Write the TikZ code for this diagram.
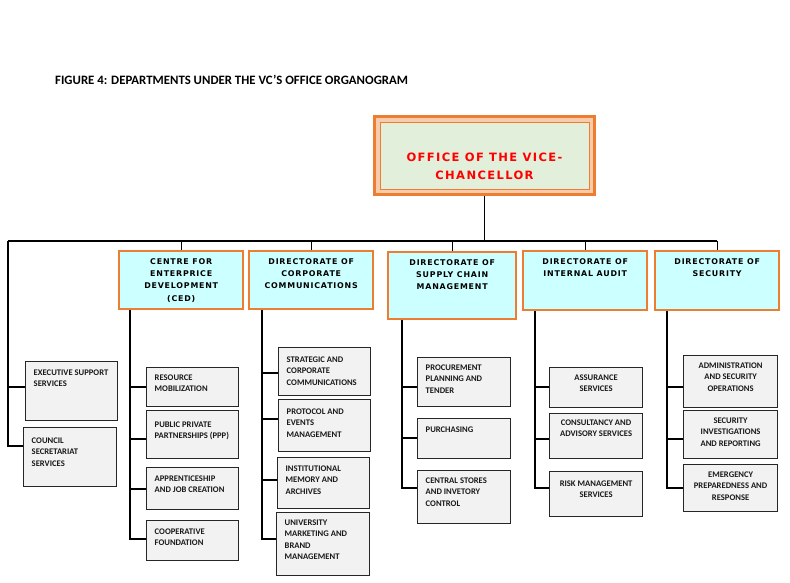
\documentclass[tikz,border=0pt]{standalone}
\usepackage{fontspec}
\setmainfont{Carlito}
\newfontfamily\hdfont[LetterSpace=10]{DejaVu Sans Bold}
\newfontfamily\vcfont[LetterSpace=12]{DejaVu Sans Bold}
\definecolor{orgc}{HTML}{ED7D31}
\definecolor{peach}{HTML}{F8CBAD}
\definecolor{cyanc}{HTML}{CCFFFF}
\definecolor{vcfill}{HTML}{E2EFDA}
\definecolor{cfill}{HTML}{F2F2F2}
\definecolor{vcred}{HTML}{FF0000}
\tikzset{
  conn/.style={draw=black, line width=1.2pt},
  lvtwo/.style={draw=orgc, line width=2.4pt, fill=cyanc, anchor=north west, inner sep=0pt},
  cb/.style={draw=black!85, line width=1.2pt, fill=cfill, anchor=north west, inner sep=0pt},
  ct/.style={font=\bfseries\fontsize{8.6}{11.6}\selectfont, text=black!90, inner sep=0pt},
  lvtwot/.style={font=\hdfont\fontsize{7.9}{12.3}\selectfont, text=black, inner sep=0pt, align=center, anchor=north},
}
\newcommand\mkboxl[7]{%
  \node[cb, minimum width=#4pt, minimum height=#5pt] (#1) at (#2,#3) {};
  \node[ct, align=left, anchor=north west] (#1t) at ([xshift=8.5pt,yshift=-#6pt+2.8pt]#1.north west) {#7};}
\newcommand\mkboxc[7]{%
  \node[cb, minimum width=#4pt, minimum height=#5pt] (#1) at (#2,#3) {};
  \node[ct, align=center, anchor=north] (#1t) at ([yshift=-#6pt+2.8pt]#1.north) {#7};}
\newcommand\mklvtwo[6]{%
  \node[lvtwo, minimum width=#4pt, minimum height=#5pt] (#1) at (#2,#3) {};
  \node[lvtwot] (#1t) at ([yshift=-8.2pt]#1.north) {#6};}
\begin{document}
\begin{tikzpicture}[x=1pt,y=-1pt]
\useasboundingbox (0,0) rectangle (790,583);
% title
\node[font=\bfseries\fontsize{12.8}{14}\selectfont, anchor=west, inner sep=0pt] (title) at (55,80) {FIGURE 4: DEPARTMENTS UNDER THE VC’S OFFICE ORGANOGRAM};
% VC box
\node[draw=orgc, line width=3pt, fill=peach, minimum width=220pt, minimum height=78pt, anchor=north west, inner sep=0pt] (vc) at (373,115) {};
\node[draw=orgc, line width=0.8pt, fill=vcfill, minimum width=209pt, minimum height=67pt, inner sep=0pt] (vcin) at (vc.center) {};
\node[font=\vcfont\fontsize{11.5}{18}\selectfont, text=vcred, align=center, anchor=north, inner sep=0pt] (vct) at ([yshift=-37.5pt]vc.north) {OFFICE OF THE VICE-\\CHANCELLOR};
% level two
\mklvtwo{ced}{118}{250}{124}{58}{CENTRE FOR\\ENTERPRICE\\DEVELOPMENT\\(CED)}
\mklvtwo{corp}{248}{250}{124}{58}{DIRECTORATE OF\\CORPORATE\\COMMUNICATIONS}
\mklvtwo{scm}{387}{251}{128}{67}{DIRECTORATE OF\\SUPPLY CHAIN\\MANAGEMENT}
\mklvtwo{aud}{522}{250}{124}{59}{DIRECTORATE OF\\INTERNAL AUDIT}
\mklvtwo{sec}{654}{250}{124}{59}{DIRECTORATE OF\\SECURITY}
% children
\mkboxl{exec}{25}{361}{92}{59}{11}{EXECUTIVE SUPPORT\\SERVICES}
\mkboxl{council}{23}{427}{93}{59}{13}{COUNCIL\\SECRETARIAT\\SERVICES}
\mkboxl{res}{146}{367}{92}{39}{10}{RESOURCE\\MOBILIZATION}
\mkboxl{ppp}{146}{410}{92}{48}{14}{PUBLIC PRIVATE\\PARTNERSHIPS (PPP)}
\mkboxl{app}{146}{467}{92}{42}{11}{APPRENTICESHIP\\AND JOB CREATION}
\mkboxl{coop}{146}{520}{92}{40}{11}{COOPERATIVE\\FOUNDATION}
\mkboxl{strat}{278}{347}{92}{48}{12}{STRATEGIC AND\\CORPORATE\\COMMUNICATIONS}
\mkboxl{proto}{278}{399}{92}{52}{12}{PROTOCOL AND\\EVENTS\\MANAGEMENT}
\mkboxl{inst}{277}{457}{92}{51}{11}{INSTITUTIONAL\\MEMORY AND\\ARCHIVES}
\mkboxl{univ}{276}{512}{93}{63}{10}{UNIVERSITY\\MARKETING AND\\BRAND\\MANAGEMENT}
\mkboxl{proc}{417}{357}{93}{49}{10}{PROCUREMENT\\PLANNING AND\\TENDER}
\mkboxl{purch}{417}{418}{93}{40}{11}{PURCHASING}
\mkboxl{store}{417}{470}{93}{53}{10}{CENTRAL STORES\\AND INVETORY\\CONTROL}
\mkboxc{assur}{549}{367}{93}{40}{10}{ASSURANCE\\SERVICES}
\mkboxc{consult}{549}{413}{93}{45}{9}{CONSULTANCY AND\\ADVISORY SERVICES}
\mkboxc{risk}{549}{471}{93}{45}{12}{RISK MANAGEMENT\\SERVICES}
\mkboxc{admin}{683}{355}{94}{52}{10}{ADMINISTRATION\\AND SECURITY\\OPERATIONS}
\mkboxc{invest}{683}{410}{94}{48}{10}{SECURITY\\INVESTIGATIONS\\AND REPORTING}
\mkboxc{emerg}{683}{464}{94}{47}{10}{EMERGENCY\\PREPAREDNESS AND\\RESPONSE}
% connectors top
\coordinate (busL) at (8,241);
\coordinate (busR) at (sec.north |- busL);
\draw[conn] (vc.south) -- (vc.south |- busL);
\draw[conn] (busL) -- (busR);
\foreach \n in {ced,corp,scm,aud,sec} \draw[conn] (\n.north |- busL) -- (\n.north);
% left branch
\draw[conn, line width=1.6pt] (busL) |- (exec.west |- 0,387);
\draw[conn, line width=1.6pt] (busL) |- (council.west |- 0,446);
% CED
\coordinate (cedx) at ([xshift=12pt]ced.south west);
\draw[conn] (cedx) |- (res.west |- 0,387);
\draw[conn] (cedx) |- (ppp.west |- 0,439);
\draw[conn] (cedx) |- (app.west |- 0,489);
\draw[conn] (cedx) |- (coop.west |- 0,539);
% corporate
\coordinate (corpx) at ([xshift=14pt]corp.south west);
\draw[conn] (corpx) |- (strat.west |- 0,373);
\draw[conn] (corpx) |- (proto.west |- 0,419);
\draw[conn] (corpx) |- (inst.west |- 0,480);
\draw[conn] (corpx) |- (univ.west |- 0,539);
% supply chain
\coordinate (scmx) at ([xshift=15pt]scm.south west);
\draw[conn] (scmx) |- (proc.west |- 0,387);
\draw[conn] (scmx) |- (purch.west |- 0,438);
\draw[conn] (scmx) |- (store.west |- 0,488);
% audit
\coordinate (audx) at ([xshift=13pt]aud.south west);
\draw[conn] (audx) |- (assur.west |- 0,387);
\draw[conn] (audx) |- (consult.west |- 0,439);
\draw[conn] (audx) |- (risk.west |- 0,488);
% security
\coordinate (secx) at ([xshift=13pt]sec.south west);
\draw[conn] (secx) |- (admin.west |- 0,387);
\draw[conn] (secx) |- (invest.west |- 0,439);
\draw[conn] (secx) |- (emerg.west |- 0,488);
\end{tikzpicture}
\end{document}
